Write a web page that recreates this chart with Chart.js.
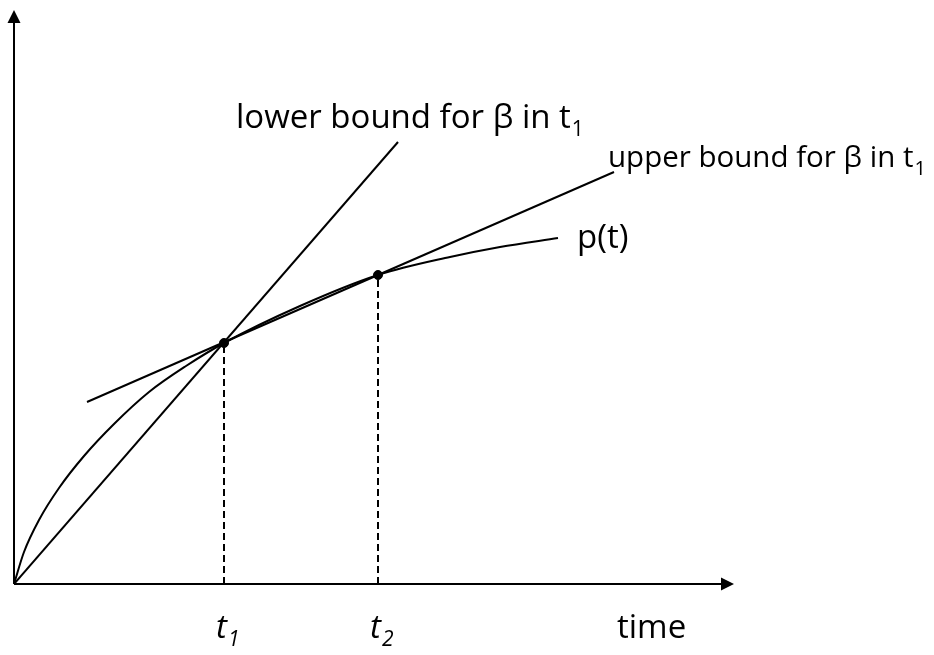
<!DOCTYPE html>
<html>
<head>
<meta charset="utf-8">
<script src="https://cdn.jsdelivr.net/npm/chart.js@4/dist/chart.umd.min.js"></script>
<style>
  body { margin: 0; background: #fff; }
  canvas { display: block; }
</style>
</head>
<body>
<canvas id="chart-canvas" width="934" height="655"></canvas>
<script>
// curve p(t)
var curveX = [0, 10, 25, 45, 70, 100, 135, 172, 210, 286, 364, 436, 486, 544];
var curveY = [0, 32, 64, 96, 128, 160, 192, 218, 241, 278, 309, 327, 337, 346];

// bound lines (start, end)
var lowerX = [0, 384];
var lowerY = [0, 442];
var upperX = [73, 600];
var upperY = [182, 412];

// marked instants
var tickVals = [210, 364];
var tickPoints = [241, 309];
var tickSubs = ['1', '2'];

var canvas = document.getElementById('chart-canvas');
var ctx = canvas.getContext('2d');

function pts(xs, ys) {
    return xs.map(function (x, i) { return { x: x, y: ys[i] }; });
}

var dropLines = tickVals.map(function (v, i) {
    return {
        data: [{ x: v, y: 0 }, { x: v, y: tickPoints[i] }],
        borderColor: '#000',
        borderWidth: 2,
        borderDash: [7, 4],
        pointRadius: 0,
        showLine: true
    };
});

var annotate = {
    id: 'annotate',
    afterDatasetsDraw: function (chart) {
        var c = chart.ctx;
        var xs = chart.scales.x, ys = chart.scales.y;
        var x0 = xs.getPixelForValue(0), y0 = ys.getPixelForValue(0);
        var xEnd = xs.right, yEnd = ys.top;
        c.save();
        c.strokeStyle = '#000';
        c.fillStyle = '#000';
        c.lineWidth = 2;
        // axes with arrow heads
        c.beginPath();
        c.moveTo(x0, y0); c.lineTo(x0, yEnd + 10);
        c.moveTo(x0, y0); c.lineTo(xEnd - 10, y0);
        c.stroke();
        c.beginPath();
        c.moveTo(x0, yEnd); c.lineTo(x0 - 6.5, yEnd + 13); c.lineTo(x0 + 6.5, yEnd + 13); c.closePath();
        c.fill();
        c.beginPath();
        c.moveTo(xEnd, y0); c.lineTo(xEnd - 13, y0 - 6.5); c.lineTo(xEnd - 13, y0 + 6.5); c.closePath();
        c.fill();

        function sub(text, s, x, y, font, subFont) {
            c.font = font;
            c.textAlign = 'left';
            c.textBaseline = 'alphabetic';
            c.fillText(text, x, y);
            var w = c.measureText(text).width;
            c.font = subFont;
            c.fillText(s, x + w + 1, y + 8);
        }

        sub('lower bound for \u03b2 in t', '1', 236, 128, '33px "Open Sans"', '21px "Open Sans"');
        sub('upper bound for \u03b2 in t', '1', 608, 167, '29.5px "Open Sans"', '20px "Open Sans"');
        c.font = '33px "Open Sans"';
        c.fillText('p(t)', 577, 248);
        c.fillText('time', 617, 638);

        // tick labels under the axis
        tickVals.forEach(function (v, i) {
            var px = xs.getPixelForValue(v);
            sub('t', tickSubs[i], px - 8, 638, 'italic 33px "Open Sans"', 'italic 21px "Open Sans"');
        });
        c.restore();
    }
};

var chart = new Chart(ctx, {
    type: 'scatter',
    data: {
        datasets: [
            {
                data: pts(curveX, curveY),
                borderColor: '#000',
                borderWidth: 2,
                pointRadius: 0,
                showLine: true,
                cubicInterpolationMode: 'monotone'
            },
            {
                data: pts(lowerX, lowerY),
                borderColor: '#000',
                borderWidth: 2,
                pointRadius: 0,
                showLine: true
            },
            {
                data: pts(upperX, upperY),
                borderColor: '#000',
                borderWidth: 2,
                pointRadius: 0,
                showLine: true
            }
        ].concat(dropLines).concat([{
            data: pts(tickVals, tickPoints),
            backgroundColor: '#000',
            borderColor: '#000',
            pointRadius: 4.5,
            showLine: false
        }])
    },
    options: {
        responsive: false,
        animation: false,
        layout: { padding: { left: 14, top: 10, right: 200, bottom: 71 } },
        plugins: { legend: { display: false }, tooltip: { enabled: false } },
        scales: {
            x: { type: 'linear', min: 0, max: 720, display: false },
            y: { type: 'linear', min: 0, max: 574, display: false }
        }
    },
    plugins: [annotate]
});
</script>
</body>
</html>
